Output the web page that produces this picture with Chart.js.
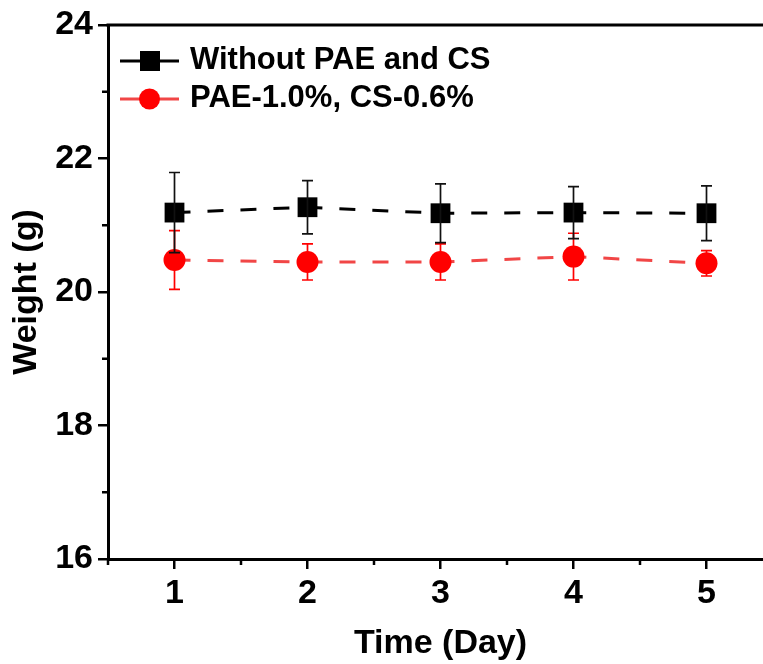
<!DOCTYPE html>
<html><head><meta charset="utf-8">
<script src="https://cdn.jsdelivr.net/npm/chart.js@4.4.1/dist/chart.umd.min.js"></script>
<style>html,body{margin:0;padding:0;background:#fff;overflow:hidden;} #wrap{width:763px;height:664px;position:relative;overflow:hidden}</style>
</head><body><div id="wrap"><canvas id="c" width="793" height="664"></canvas></div>
<script>
const days = [1, 2, 3, 4, 5];
const withoutMean = [21.19, 21.27, 21.18, 21.19, 21.18];
const withoutErr = [0.60, 0.40, 0.44, 0.39, 0.41];
const paeMean = [20.48, 20.45, 20.45, 20.53, 20.43];
const paeErr = [0.44, 0.27, 0.27, 0.35, 0.19];
const yTicks = [16, 18, 20, 22, 24];
const yMinor = [17, 19, 21, 23];
const xTicks = [1, 2, 3, 4, 5];
const xMinor = [0.5, 1.5, 2.5, 3.5, 4.5, 5.5];
const seriesNames = ['Without PAE and CS', 'PAE-1.0%, CS-0.6%'];
const errs = [withoutErr, paeErr];

const FONT = "'Liberation Sans', Arial, sans-serif";

const extras = {
  id: 'extras',
  afterDatasetsDraw(chart) {
    const ctx = chart.ctx, xs = chart.scales.x, ys = chart.scales.y;
    const colors = ['#111', '#ff0000'];
    [1, 0].forEach(di => {
      const means = chart.data.datasets[di].data;
      ctx.save();
      ctx.strokeStyle = colors[di];
      ctx.lineWidth = 1.7;
      means.forEach((p, i) => {
        const x = xs.getPixelForValue(p.x);
        const yt = ys.getPixelForValue(p.y + errs[di][i]);
        const yb = ys.getPixelForValue(p.y - errs[di][i]);
        ctx.beginPath();
        ctx.moveTo(x, yt); ctx.lineTo(x, yb);
        ctx.moveTo(x - 5.5, yt); ctx.lineTo(x + 5.5, yt);
        ctx.moveTo(x - 5.5, yb); ctx.lineTo(x + 5.5, yb);
        ctx.stroke();
      });
      ctx.restore();
    });
  },
  afterDraw(chart) {
    const ctx = chart.ctx, xs = chart.scales.x, ys = chart.scales.y, a = chart.chartArea;
    ctx.save();
    ctx.strokeStyle = '#000';
    ctx.lineWidth = 3;
    ctx.beginPath();
    ctx.moveTo(a.left - 1.5, a.top); ctx.lineTo(a.right, a.top);
    ctx.stroke();
    ctx.lineWidth = 2.5;
    ctx.beginPath();
    yMinor.forEach(v => { const y = ys.getPixelForValue(v); ctx.moveTo(a.left, y); ctx.lineTo(a.left - 6, y); });
    xMinor.forEach(v => { const x = xs.getPixelForValue(v); ctx.moveTo(x, a.bottom); ctx.lineTo(x, a.bottom + 6); });
    ctx.stroke();
    const rows = [
      { y: 61, line: '#000', fill: '#000', shape: 'rect' },
      { y: 99, line: 'rgba(240,50,50,0.9)', fill: '#ff0000', shape: 'circle' }
    ];
    rows.forEach((r, i) => {
      ctx.strokeStyle = r.line;
      ctx.lineWidth = 3;
      ctx.beginPath();
      ctx.moveTo(120, r.y); ctx.lineTo(179, r.y);
      ctx.stroke();
      ctx.fillStyle = r.fill;
      if (r.shape === 'rect') {
        ctx.fillRect(140, r.y - 10, 20, 20);
      } else {
        ctx.beginPath(); ctx.arc(149.5, r.y, 10.5, 0, Math.PI * 2); ctx.fill();
      }
      ctx.fillStyle = '#000';
      ctx.font = 'bold 31px ' + FONT;
      ctx.textBaseline = 'middle';
      ctx.textAlign = 'left';
      ctx.fillText(seriesNames[i], 190, r.y - 1);
    });
    ctx.restore();
  }
};

new Chart(document.getElementById('c'), {
  type: 'line',
  data: {
    datasets: [
      {
        label: seriesNames[0],
        data: days.map((d, i) => ({ x: d, y: withoutMean[i] })),
        borderColor: '#000',
        borderWidth: 3,
        borderDash: [16, 17],
        pointStyle: 'rect',
        pointRadius: 14,
        pointBackgroundColor: '#000',
        pointBorderColor: '#000',
        pointBorderWidth: 0,
        tension: 0
      },
      {
        label: seriesNames[1],
        data: days.map((d, i) => ({ x: d, y: paeMean[i] })),
        borderColor: 'rgba(240,50,50,0.9)',
        borderWidth: 3,
        borderDash: [16, 17],
        pointStyle: 'circle',
        pointRadius: 11,
        pointBackgroundColor: '#ff0000',
        pointBorderColor: '#ff0000',
        pointBorderWidth: 0,
        tension: 0
      }
    ]
  },
  options: {
    responsive: false,
    animation: false,
    devicePixelRatio: 1,
    layout: { padding: { top: 25, right: 20, left: 0, bottom: 0 } },
    plugins: { legend: { display: false }, tooltip: { enabled: false } },
    scales: {
      x: {
        type: 'linear',
        min: 0.5,
        max: 5.5,
        afterBuildTicks: s => { s.ticks = xTicks.map(v => ({ value: v })); },
        afterFit: s => { s.height = 105; },
        grid: { drawOnChartArea: false, drawTicks: true, tickLength: 10, color: '#000', lineWidth: 2.5 },
        border: { display: true, color: '#000', width: 3 },
        ticks: { color: '#000', font: { family: FONT, size: 34, weight: 'bold' }, padding: 4, maxRotation: 0 },
        title: { display: true, text: 'Time (Day)', color: '#000', font: { family: FONT, size: 34, weight: 'bold' }, padding: { top: 2, bottom: 0 } }
      },
      y: {
        type: 'linear',
        min: 16,
        max: 24,
        afterBuildTicks: s => { s.ticks = yTicks.map(v => ({ value: v })); },
        afterFit: s => { s.width = 108; s.paddingTop = 0; s.paddingBottom = 0; },
        grid: { drawOnChartArea: false, drawTicks: true, tickLength: 10, color: '#000', lineWidth: 2.5 },
        border: { display: true, color: '#000', width: 3 },
        ticks: { color: '#000', font: { family: FONT, size: 34, weight: 'bold' }, padding: 5 },
        title: { display: true, text: 'Weight (g)', color: '#000', font: { family: FONT, size: 34, weight: 'bold' }, padding: { top: 6, bottom: 0 } }
      }
    }
  },
  plugins: [extras]
});
</script></body></html>
